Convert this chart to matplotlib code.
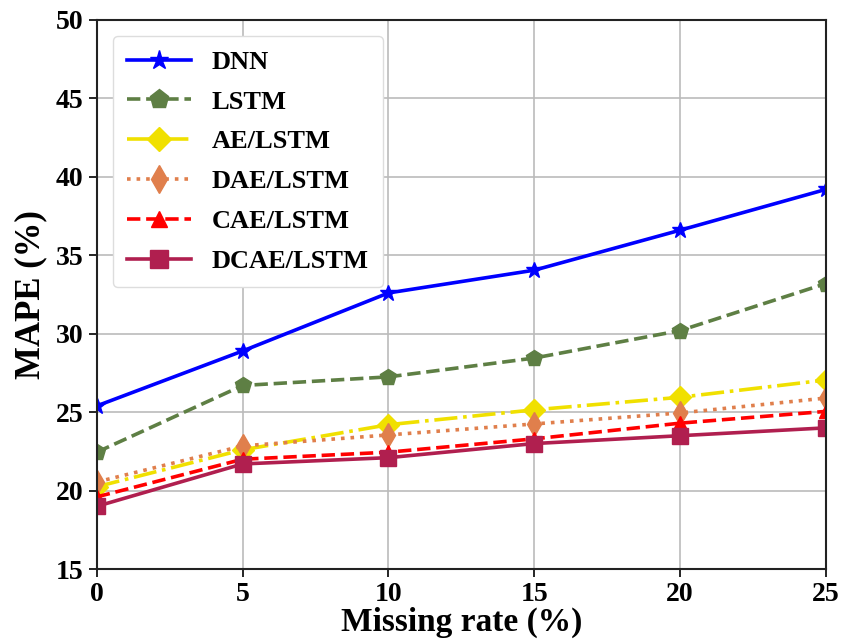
import numpy as np
import matplotlib
matplotlib.use("Agg")
import matplotlib.pyplot as plt

plt.rcParams['font.family'] = ['Liberation Serif', 'DejaVu Serif']
plt.rcParams['font.weight'] = 'bold'

missing_rate = [0, 5, 10, 15, 20, 25]
dnn = [25.4, 28.9, 32.6, 34.05, 36.6, 39.2]
lstm = [22.45, 26.7, 27.25, 28.45, 30.2, 33.2]
ae_lstm = [20.25, 22.6, 24.2, 25.15, 25.95, 27.05]
dae_lstm = [20.55, 22.85, 23.55, 24.25, 24.95, 25.9]
cae_lstm = [19.6, 22.0, 22.45, 23.3, 24.3, 25.05]
dcae_lstm = [19.0, 21.7, 22.1, 23.0, 23.5, 24.0]

series = [
    ("DNN", dnn, '#0000ff', '-', '*', 12),
    ("LSTM", lstm, '#5e7f44', '--', 'p', 12),
    ("AE/LSTM", ae_lstm, '#f0e000', '-.', 'D', 11),
    ("DAE/LSTM", dae_lstm, '#e07f4c', ':', 'd', 12),
    ("CAE/LSTM", cae_lstm, '#ff0000', '--', '^', 10),
    ("DCAE/LSTM", dcae_lstm, '#b01f4f', '-', 's', 11),
]

fig = plt.figure(figsize=(8.42, 6.43), dpi=100)
ax = fig.add_axes([0.115, 0.115, 0.866, 0.854])

for name, vals, col, ls, mk, ms in series:
    ax.plot(missing_rate, vals, color=col, linestyle=ls, marker=mk,
            markersize=ms, linewidth=2.6, label=name)

ax.set_xlim(0, 25)
ax.set_ylim(15, 50)
ax.set_xticks(missing_rate)
ax.set_yticks(np.arange(15, 51, 5))
ax.grid(True, color='#bbbbbb', linewidth=1.2)
ax.set_axisbelow(True)

for sp in ax.spines.values():
    sp.set_linewidth(1.5)
    sp.set_color('#222222')
ax.tick_params(axis='both', labelsize=20, width=1.2, length=6)
for lab in ax.get_xticklabels() + ax.get_yticklabels():
    lab.set_fontweight('bold')

ax.set_xlabel("Missing rate (%)", fontsize=24, fontweight='bold', labelpad=0)
ax.set_ylabel("MAPE (%)", fontsize=25, fontweight='bold', labelpad=6)

leg = ax.legend(loc='upper left', fontsize=19, handlelength=2.4,
                handletextpad=0.8, borderaxespad=0.6, labelspacing=0.62,
                borderpad=0.55, markerscale=1.15,
                framealpha=1.0, edgecolor='#dddddd')
for t in leg.get_texts():
    t.set_fontweight('bold')

fig.savefig("out.png", dpi=100)
